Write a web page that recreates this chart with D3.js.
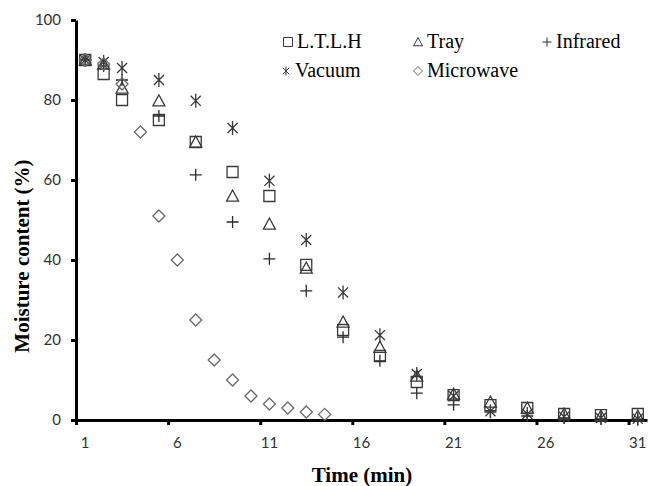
<!DOCTYPE html>
<html>
<head>
<meta charset="utf-8">
<script src="https://cdn.jsdelivr.net/npm/d3@7"></script>
<style>
  body { margin: 0; background: #fff; }
</style>
</head>
<body>
<div id="chart"></div>
<script>
// sampling times (min)
var times = [1, 2, 3, 5, 7, 9, 11, 13, 15, 17, 19, 21, 23, 25, 27, 29, 31];
var ltlh = [90, 86.5, 80, 75, 69.5, 62, 56, 38.8, 22.5, 16, 9.5, 6.2, 3.7, 3, 1.5, 1.2, 1.5];
var tray = [90, 89, 83, 79.8, 69.5, 56, 49, 38, 24.5, 18.2, 11, 6.5, 4.5, 3, 1.5, 1, 1];
var infrared = [90, 88.5, 85, 76, 61.3, 49.5, 40.3, 32.3, 20.7, 14.8, 6.7, 3.8, 2, 1, 0.5, 0.3, 0.2];
var vacuum = [90, 89.5, 88, 85, 79.8, 73, 59.8, 45, 31.9, 21.2, 11.5, 6, 2.2, 1.5, 0.8, 0.5, 0.3];
var microTimes = [1, 2, 3, 4, 5, 6, 7, 8, 9, 10, 11, 12, 13, 14];
var microwave = [90, 89, 84, 72, 51, 40, 25, 15, 10, 6, 4, 3, 2, 1.4];

var xTicks = [1, 6, 11, 16, 21, 26, 31];
var yTicks = [0, 20, 40, 60, 80, 100];

var width = 648, height = 486;

var svg = d3.select('#chart')
  .append('svg')
  .attr('width', width)
  .attr('height', height);

// scales
var x_scale = d3.scaleLinear().domain([0.5, 31.5]).range([76, 647]);
var y_scale = d3.scaleLinear().domain([0, 100]).range([420, 20]);

// marker paths, s = half size
function square(s) { return 'M' + -s + ',' + -s + 'H' + s + 'V' + s + 'H' + -s + 'Z'; }
function triangle(s) { return 'M0,' + (-s) + 'L' + s + ',' + (s * 0.85) + 'H' + -s + 'Z'; }
function plus(s) { return 'M' + -s + ',0H' + s + 'M0,' + -s + 'V' + s; }
function star(s) {
  var d = s * 0.72;
  return 'M0,' + -s + 'V' + s + 'M' + -d + ',' + -d + 'L' + d + ',' + d + 'M' + d + ',' + -d + 'L' + -d + ',' + d;
}
function diamond(s) { return 'M0,' + -s + 'L' + s + ',0L0,' + s + 'L' + -s + ',0Z'; }

var series = [
  { name: 'L.T.L.H', t: times, v: ltlh, shape: square, size: 5.5, color: '#3a3a3a' },
  { name: 'Tray', t: times, v: tray, shape: triangle, size: 6, color: '#3a3a3a' },
  { name: 'Infrared', t: times, v: infrared, shape: plus, size: 6, color: '#2a2a2a' },
  { name: 'Vacuum', t: times, v: vacuum, shape: star, size: 7, color: '#3a3a3a' },
  { name: 'Microwave', t: microTimes, v: microwave, shape: diamond, size: 6, color: '#6a6a6a' }
];

// axes
var xAxis = d3.axisBottom(x_scale)
  .tickValues(xTicks.map(function (d) { return d - 0.5; }))
  .tickSize(5)
  .tickSizeOuter(0)
  .tickFormat('');
svg.append('g')
  .attr('transform', 'translate(0,' + y_scale(0) + ')')
  .call(xAxis)
  .call(function (g) {
    g.select('.domain').attr('stroke-width', 3);
    g.selectAll('.tick line').attr('stroke-width', 3);
  });

// x labels sit on the sample times, ticks half a unit left of them
svg.append('g')
  .selectAll('text')
  .data(xTicks)
  .enter()
  .append('text')
  .attr('x', function (d) { return x_scale(d); })
  .attr('y', 448)
  .attr('text-anchor', 'middle')
  .attr('font-family', 'Lato, sans-serif')
  .attr('font-size', 15)
  .attr('fill', '#333')
  .text(function (d) { return d; });

var yAxis = d3.axisLeft(y_scale)
  .tickValues(yTicks)
  .tickSize(5)
  .tickSizeOuter(0)
  .tickPadding(10);
svg.append('g')
  .attr('transform', 'translate(' + x_scale(0.5) + ',0)')
  .call(yAxis)
  .call(function (g) {
    g.select('.domain').attr('stroke-width', 3);
    g.selectAll('.tick line').attr('stroke-width', 3);
    g.selectAll('.tick text')
      .attr('font-family', 'Lato, sans-serif')
      .attr('font-size', 15)
      .attr('fill', '#333');
  });

// points
series.forEach(function (s) {
  svg.append('g')
    .selectAll('path')
    .data(s.v)
    .enter()
    .append('path')
    .attr('transform', function (d, i) {
      return 'translate(' + x_scale(s.t[i]) + ',' + y_scale(d) + ')';
    })
    .attr('d', s.shape(s.size))
    .attr('fill', 'none')
    .attr('stroke', s.color)
    .attr('stroke-width', 1.3);
});

// legend
var legendPos = [[288, 42], [418, 42], [547, 42], [286, 71], [418, 71]];
var legend = svg.append('g');
series.forEach(function (s, i) {
  var p = legendPos[i];
  legend.append('path')
    .attr('transform', 'translate(' + p[0] + ',' + p[1] + ')')
    .attr('d', s.shape(4.5))
    .attr('fill', 'none')
    .attr('stroke', s.color)
    .attr('stroke-width', 1);
  legend.append('text')
    .attr('x', p[0] + 9)
    .attr('y', p[1] + 6)
    .attr('font-family', '"Liberation Serif", "Times New Roman", serif')
    .attr('font-size', 20)
    .attr('fill', '#000')
    .text(s.name);
});

// axis titles
svg.append('text')
  .attr('x', 362)
  .attr('y', 482)
  .attr('text-anchor', 'middle')
  .attr('font-family', '"Liberation Serif", "Times New Roman", serif')
  .attr('font-weight', 'bold')
  .attr('font-size', 21)
  .text('Time (min)');

svg.append('text')
  .attr('transform', 'translate(29,256) rotate(-90)')
  .attr('text-anchor', 'middle')
  .attr('font-family', '"Liberation Serif", "Times New Roman", serif')
  .attr('font-weight', 'bold')
  .attr('font-size', 21)
  .text('Moisture content (%)');
</script>
</body>
</html>
